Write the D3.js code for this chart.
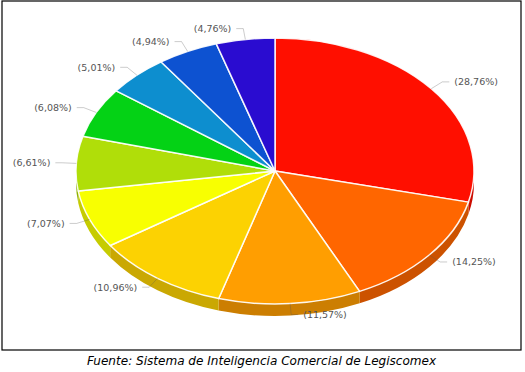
<!DOCTYPE html>
<html><head><meta charset="utf-8">
<script src="https://cdn.jsdelivr.net/npm/d3@7"></script>
<style>html,body{margin:0;padding:0;background:#fff}svg{display:block}</style>
</head><body><svg id="c" width="525" height="372"></svg>
<script>
const shares = [28.76,14.25,11.57,10.96,7.07,6.61,6.08,5.01,4.94,4.76];
const sliceColors = ["#FF0F00","#FF6600","#FF9E01","#FCD202","#F8FF01","#B0DE09","#04D215","#0D8ECF","#0D52D1","#2A0CD0"];
const caption = "Fuente: Sistema de Inteligencia Comercial de Legiscomex";

const cx=275, cy=171, rx=199, ry=133, depth=12;
const svg=d3.select("#c");
const fmt=d3.formatLocale({decimal:",",thousands:".",grouping:[3],currency:["","%"]}).format(".2f");
const pie=d3.pie().sort(null).value(d=>d)(shares);
const pt=(a,dy=0,grow=[0,0])=>[cx+(rx+grow[0])*Math.sin(a), cy-(ry+grow[1])*Math.cos(a)+dy];

svg.append("rect").attr("x",2).attr("y",1).attr("width",519).attr("height",349)
  .attr("fill","#fff").attr("stroke","#000").attr("stroke-width",1.2);

// side walls
const HALF=Math.PI/2;
svg.append("g").selectAll("path").data(pie.filter(d=>d.endAngle>HALF&&d.startAngle<3*HALF)).join("path")
  .attr("d",d=>{
    const a0=Math.max(d.startAngle,HALF), a1=Math.min(d.endAngle,3*HALF);
    const p0=pt(a0),p1=pt(a1);
    return `M${p0[0]},${p0[1]}A${rx},${ry} 0 ${a1-a0>Math.PI?1:0} 1 ${p1[0]},${p1[1]}`+
      `L${p1[0]},${p1[1]+depth}A${rx},${ry} 0 ${a1-a0>Math.PI?1:0} 0 ${p0[0]},${p0[1]+depth}Z`;
  })
  .attr("fill",(d,i)=>{const c=d3.rgb(sliceColors[d.index]);return d3.rgb(c.r*.8,c.g*.8,c.b*.8).formatHex();});

// top faces
const arc=d3.arc().innerRadius(0).outerRadius(1);
svg.append("g").attr("transform",`translate(${cx},${cy}) scale(${rx},${ry})`)
  .selectAll("path").data(pie).join("path")
  .attr("d",arc)
  .attr("fill",d=>sliceColors[d.index])
  .attr("stroke","#fff").attr("stroke-opacity",.9).attr("stroke-width",1.5)
  .attr("vector-effect","non-scaling-stroke").attr("stroke-linejoin","round");

// leaders + labels
const grow=[14,11], lead=7, gap=12;
const g=svg.append("g");
pie.forEach(d=>{
  const m=(d.startAngle+d.endAngle)/2, a=pt(m), k=pt(m,0,grow), s=Math.sin(m)>=0?1:-1;
  g.append("path").attr("d",d3.line()([a,k,[k[0]+s*lead,k[1]]]))
    .attr("fill","none").attr("stroke","#555").attr("stroke-opacity",.3).attr("stroke-width",1);
  g.append("text").attr("x",k[0]+s*gap).attr("y",k[1]).attr("dy",".35em")
    .attr("text-anchor",s>0?"start":"end")
    .attr("font-family","'DejaVu Sans',Verdana,sans-serif").attr("font-size",9.5).attr("fill","#555")
    .text(`(${fmt(d.data)}%)`);
});

svg.append("text").attr("x",261.5).attr("y",365).attr("text-anchor","middle")
  .attr("font-family","'DejaVu Sans',Verdana,sans-serif").attr("font-style","italic")
  .attr("font-size",12.05).attr("fill","#000").text(caption);
</script></body></html>
